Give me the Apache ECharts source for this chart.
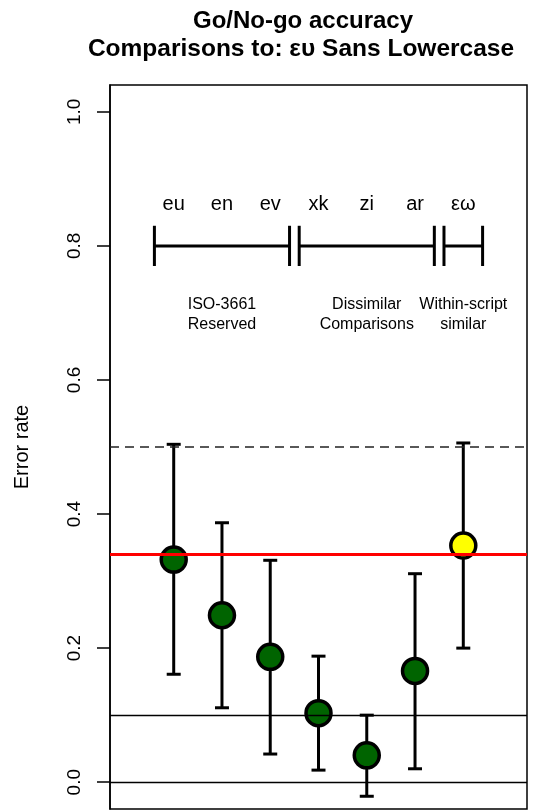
<!DOCTYPE html>
<html lang="en">
<head>
    <meta charset="UTF-8">
    <title>Go/No-go accuracy</title>
    <script src="https://cdn.jsdelivr.net/npm/echarts@6.0.0/dist/echarts.min.js"></script>
    <style>
        html, body { margin: 0; padding: 0; background: #fff; }
    </style>
</head>
<body>
<div id="main" style="width: 546px;height: 810px"></div>
<script>
    // data
    let categories = ['eu', 'en', 'ev', 'xk', 'zi', 'ar', 'εω'];
    let xPos = [1, 2, 3, 4, 5, 6, 7];
    let errorRate = [0.332, 0.249, 0.187, 0.103, 0.040, 0.166, 0.353];
    let ciLow = [0.161, 0.111, 0.042, 0.018, -0.021, 0.020, 0.200];
    let ciHigh = [0.504, 0.387, 0.331, 0.188, 0.100, 0.311, 0.506];
    let refIndex = 6; // the within-script reference point

    let chanceLevel = 0.5;
    let refLevel = 0.339;
    let floorLines = [0.103, 0.0];

    let groupLabels = ['ISO-3661\nReserved', 'Dissimilar\nComparisons', 'Within-script\nsimilar'];
    let groupX = [2, 5, 7];
    let bracketFrom = [0.6, 3.6, 6.6];
    let bracketTo = [3.4, 6.4, 7.4];

    let yTicks = [0, 0.2, 0.4, 0.6, 0.8, 1.0];

    let FONT = 'Liberation Sans, Arial, Helvetica, sans-serif';

    var chartDom = document.getElementById('main');
    var myChart = echarts.init(chartDom);
    var option;

    let pointData = [];
    let barData = [];
    let catData = [];
    for (let i = 0; i < xPos.length; i++) {
        pointData.push([xPos[i], errorRate[i]]);
        barData.push([xPos[i], ciLow[i], ciHigh[i]]);
        catData.push([xPos[i], 0.862, categories[i]]);
    }
    let bracketData = [];
    for (let i = 0; i < bracketFrom.length; i++) {
        bracketData.push([bracketFrom[i], bracketTo[i], 0.8]);
    }
    let groupData = [];
    for (let i = 0; i < groupX.length; i++) {
        groupData.push([groupX[i], 0.698, groupLabels[i]]);
    }

    let hLines = [
        {yAxis: chanceLevel, lineStyle: {color: '#222', width: 1.5, type: [9, 6]}},
        {yAxis: refLevel, lineStyle: {color: '#ff0000', width: 3, type: 'solid'}}
    ];
    for (let i = 0; i < floorLines.length; i++) {
        hLines.push({yAxis: floorLines[i], lineStyle: {color: '#000', width: 1.3, type: 'solid'}});
    }

    option = {
        animation: false,
        backgroundColor: '#fff',
        textStyle: {fontFamily: FONT},
        graphic: [
            {type: 'text', x: 303, y: 21, style: {text: 'Go/No-go accuracy', fontSize: 24, fontWeight: 'bold',
                    fontFamily: FONT, fill: '#000', align: 'center', verticalAlign: 'middle'}},
            {type: 'text', x: 301, y: 49, style: {text: 'Comparisons to: ευ Sans Lowercase', fontSize: 24.5, fontWeight: 'bold',
                    fontFamily: FONT, fill: '#000', align: 'center', verticalAlign: 'middle'}}
        ],
        grid: {
            left: 110, right: 19, top: 85, bottom: 1,
            show: true, borderColor: '#000', borderWidth: 1.5, backgroundColor: 'transparent'
        },
        xAxis: {
            type: 'value', min: -0.32, max: 8.32, show: false
        },
        yAxis: {
            type: 'value', min: -0.04, max: 1.04,
            name: 'Error rate', nameLocation: 'middle', nameGap: 78, nameRotate: 90,
            nameTextStyle: {fontSize: 20, color: '#000', fontFamily: FONT},
            axisLine: {show: true, onZero: false, lineStyle: {color: '#000', width: 1.5}},
            axisTick: {show: true, customValues: yTicks, length: 13, lineStyle: {color: '#000', width: 1.5}},
            axisLabel: {
                customValues: yTicks, rotate: 90, margin: 26, fontSize: 19, color: '#000', fontFamily: FONT,
                formatter: function (v) { return v.toFixed(1); }
            },
            splitLine: {show: false}
        },
        series: [
            {
                name: 'ci', type: 'custom', z: 2,
                data: barData,
                renderItem: function (params, api) {
                    let top = api.coord([api.value(0), api.value(2)]);
                    let bot = api.coord([api.value(0), api.value(1)]);
                    let w = 7;
                    let st = {stroke: '#000', lineWidth: 3};
                    return {
                        type: 'group', children: [
                            {type: 'line', shape: {x1: top[0], y1: top[1], x2: bot[0], y2: bot[1]}, style: st},
                            {type: 'line', shape: {x1: top[0] - w, y1: top[1], x2: top[0] + w, y2: top[1]}, style: st},
                            {type: 'line', shape: {x1: bot[0] - w, y1: bot[1], x2: bot[0] + w, y2: bot[1]}, style: st}
                        ]
                    };
                }
            },
            {
                name: 'error rate', type: 'scatter', z: 3,
                data: pointData,
                symbol: 'circle', symbolSize: 25,
                itemStyle: {
                    color: function (p) { return p.dataIndex === refIndex ? '#ffff00' : '#006400'; },
                    borderColor: '#000', borderWidth: 3.5, opacity: 1
                },
                markLine: {
                    silent: true, symbol: 'none', z: 5,
                    label: {show: false},
                    data: hLines
                }
            },
            {
                name: 'brackets', type: 'custom', z: 2,
                data: bracketData,
                renderItem: function (params, api) {
                    let a = api.coord([api.value(0), api.value(2)]);
                    let b = api.coord([api.value(1), api.value(2)]);
                    let up = api.coord([api.value(0), api.value(2) + 0.03]);
                    let dn = api.coord([api.value(0), api.value(2) - 0.03]);
                    let st = {stroke: '#000', lineWidth: 3};
                    return {
                        type: 'group', children: [
                            {type: 'line', shape: {x1: a[0], y1: a[1], x2: b[0], y2: b[1]}, style: st},
                            {type: 'line', shape: {x1: a[0], y1: up[1], x2: a[0], y2: dn[1]}, style: st},
                            {type: 'line', shape: {x1: b[0], y1: up[1], x2: b[0], y2: dn[1]}, style: st}
                        ]
                    };
                }
            },
            {
                name: 'categories', type: 'custom', z: 2,
                data: catData,
                renderItem: function (params, api) {
                    let p = api.coord([api.value(0), api.value(1)]);
                    return {
                        type: 'text', x: p[0], y: p[1],
                        style: {text: catData[params.dataIndex][2], fontSize: 20, fontFamily: FONT, fill: '#000',
                            align: 'center', verticalAlign: 'middle'}
                    };
                }
            },
            {
                name: 'groups', type: 'custom', z: 2,
                data: groupData,
                renderItem: function (params, api) {
                    let p = api.coord([api.value(0), api.value(1)]);
                    return {
                        type: 'text', x: p[0], y: p[1],
                        style: {text: groupData[params.dataIndex][2], fontSize: 16, lineHeight: 20, fontFamily: FONT,
                            fill: '#000', align: 'center', verticalAlign: 'middle'}
                    };
                }
            }
        ]
    };
    option && myChart.setOption(option);
</script>
</body>
</html>
